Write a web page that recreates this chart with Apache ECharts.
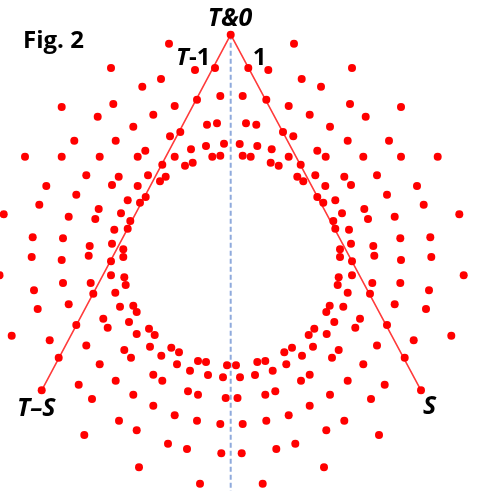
<!DOCTYPE html>
<html lang="en">

<head>
  <meta charset="UTF-8" />
  <title>Fig. 2</title>
  <script src="https://cdn.jsdelivr.net/npm/echarts@6/dist/echarts.min.js"></script>
  <style>
    body {
      margin: 0;
      background: #fff;
    }

    #chart {
      width: 478px;
      height: 491px;
    }
  </style>
</head>

<body>
  <div id="chart"></div>

  <script>
    // dot positions (x right, y down)
    const dotsTop = [
      [230.7, 34.7],
      [169, 43.7], [294, 43.7],
      [111, 68], [352, 68], [195, 70], [268.3, 70], [215, 68], [248.3, 68],
      [161, 79], [301.7, 79],
      [142.3, 86.7], [321, 86.7],
      [220.3, 96], [242.7, 96],
      [197, 99.7], [266.3, 99.7],
      [113.3, 104], [350, 104],
      [174.7, 106], [288.7, 106],
      [61.7, 107], [401, 107],
      [153.3, 114.7], [309.7, 114.7],
      [97.7, 116.7], [365.7, 116.7],
      [217, 123.3], [246, 123.3],
      [207, 124.7], [256.3, 124.7],
      [133.3, 126.7], [330, 126.7],
      [180.3, 132], [283, 132],
      [170, 136.3], [293.3, 136.3],
      [74.3, 140.7], [389, 140.7], [115.7, 140.7], [347.7, 140.7],
      [224, 143.7], [239.7, 144],
      [206, 146], [257.3, 146],
      [191, 149.3], [271.7, 149.3],
      [145.3, 150.7], [317.3, 150.7],
      [220.3, 155.7], [242.7, 155.7],
      [25, 156.7], [61.7, 156.7], [99.7, 156.7], [137.7, 156.7], [174.7, 156.7], [212.3, 156.7],
      [250.7, 156.7], [288.7, 156.7], [325.7, 156.7], [363.3, 156.7], [401, 156.7], [437.7, 156.7]
    ];

    const dotsMid = [
      [192.7, 162.7], [270.7, 162.7],
      [162.3, 164.7], [300.7, 164.7],
      [185, 165.7], [278.7, 165.7],
      [86.3, 175.3], [377, 175.3], [148, 175.3], [315.3, 175.3],
      [118.7, 176.7], [344.3, 176.7], [165.7, 176.7], [297.3, 176.7],
      [160, 181.3], [303.3, 181.3],
      [112, 185], [351, 185],
      [46.3, 186], [417, 186], [137.7, 186], [325.3, 186],
      [76.3, 194.7], [387, 194.7],
      [145.7, 197], [317.3, 197],
      [127.7, 200.3], [335.3, 200.3],
      [140, 202.7], [323.3, 202.7],
      [39.3, 204.7], [423.7, 204.7],
      [98.7, 209], [364.3, 209],
      [121, 213.3], [342, 213.3],
      [3.7, 214.3], [459.3, 214.3],
      [68.7, 216.7], [394.7, 216.7],
      [95.3, 219], [368, 219],
      [130.3, 221], [333.3, 221],
      [127.7, 228.7], [335.3, 228.7],
      [114.3, 229.7], [349, 229.7],
      [32.7, 237.3], [430.3, 237.3],
      [63, 238.3], [400.3, 238.3],
      [112, 243.7], [351, 243.7],
      [89.7, 246], [373.3, 246],
      [123.3, 249.3], [340, 249.3],
      [88.7, 255.7], [374.3, 255.7],
      [123.3, 257], [340, 257], [31.7, 257], [431.3, 257],
      [61.7, 260], [401, 260],
      [111, 261.3], [352, 261.3],
      [-0.5, 275.3], [463.7, 275.3], [111, 275.3], [352, 275.3],
      [124.3, 277.3], [338.7, 277.3],
      [63, 283], [400.3, 283], [90.7, 283], [372.3, 283],
      [125.7, 285], [337.7, 285],
      [34, 290.3], [429, 290.3],
      [115.3, 292.7], [347.7, 292.7],
      [93.3, 293.7], [370, 293.7],
      [68.7, 304.3], [394.7, 304.3],
      [133.3, 305.7], [329.7, 305.7],
      [120, 306.7], [343.3, 306.7],
      [37.7, 309], [426, 309],
      [136.7, 312], [326.3, 312],
      [103.3, 318.7], [360, 318.7],
      [129, 322], [334.3, 322],
      [76.3, 325], [387, 325],
      [107.7, 327.7], [355.3, 327.7],
      [149, 328.7], [314.3, 328.7]
    ];

    const dotsBottom = [
      [136.7, 334], [326.7, 334],
      [154.7, 335], [308.7, 335],
      [11.7, 335.7], [451.3, 335.7],
      [49.7, 340.3], [413.7, 340.3],
      [86.3, 345.5], [377, 345.5],
      [150, 346.7], [313, 346.7],
      [171.3, 347.7], [292, 347.7],
      [124.3, 350], [338.7, 350],
      [179, 352.3], [284.3, 352.3],
      [161.3, 355.7], [302, 355.7],
      [58.7, 357.7], [404.7, 357.7], [131, 357.7], [332, 357.7],
      [198, 361], [265.3, 361],
      [206, 362], [257.3, 362],
      [99.7, 364.3], [363.3, 364.3], [177, 364.3], [286.3, 364.3],
      [227, 365.3], [236, 365.3],
      [190, 370.7], [272.7, 370.7],
      [153.3, 374.7], [309.7, 374.7],
      [208, 375], [255, 375],
      [223, 377.3], [240, 377.3],
      [115.7, 380.7], [347.7, 380.7], [162.3, 380.7], [301, 380.7],
      [78.7, 384.7], [384.7, 384.7],
      [41.7, 390.3], [421, 390.3],
      [188, 391.3], [275.3, 391.3],
      [133.3, 394.7], [330, 394.7], [198, 394.7], [265.3, 394.7],
      [225.7, 398], [237.5, 398],
      [92, 399], [371, 399],
      [153.3, 405.7], [309.7, 405.7],
      [174.7, 415.3], [288.7, 415.3],
      [119, 420.7], [344.3, 420.7], [197, 420.7], [266.3, 420.7],
      [220.3, 424], [242.7, 424],
      [136.7, 430.3], [326.3, 430.3],
      [84.3, 435], [379, 435],
      [168, 443.7], [295.3, 443.7],
      [187, 449], [276.3, 449],
      [221.3, 453.3], [241.7, 453.3],
      [139, 467.3], [324, 467.3],
      [200, 483.7], [262.7, 483.7]
    ];

    // the two sides of the triangle: T-S -> T&0 -> S
    const triangle = [[41.7, 390.3], [230.7, 34.7], [421, 390.3]];
    // dashed symmetry axis
    const centerLine = [[230.7, 34.7], [230.7, 491]];

    const chart = echarts.init(document.getElementById('chart'));

    const labelFont = '"Open Sans", "Liberation Sans", sans-serif';

    // small helper for the black labels (y is the top of the text box)
    function label(text, x, y, size, italic, align) {
      return {
        type: 'text',
        x: x,
        y: y,
        z: 10,
        style: {
          text: text,
          font: (italic ? 'italic ' : '') + 'bold ' + size + 'px ' + labelFont,
          fill: '#000',
          textAlign: align || 'left',
          textVerticalAlign: 'top'
        }
      };
    }

    const option = {
      animation: false,
      grid: { left: 0, right: 0, top: 0, bottom: 0 },
      xAxis: { type: 'value', min: 0, max: 478, show: false },
      yAxis: { type: 'value', min: 0, max: 491, inverse: true, show: false },
      series: [
        {
          type: 'line',
          data: centerLine,
          showSymbol: false,
          lineStyle: { color: '#8faadc', width: 2, type: [5, 3] },
          z: 1
        },
        {
          type: 'line',
          data: triangle,
          showSymbol: false,
          lineStyle: { color: '#ff3b3b', width: 1.6 },
          z: 2
        },
        {
          type: 'scatter',
          data: dotsTop.concat(dotsMid, dotsBottom),
          symbolSize: 8,
          clip: false,
          itemStyle: { color: '#ff0000', opacity: 1 },
          z: 3
        }
      ],
      graphic: [
        label('Fig. 2', 23, 29.5, 24, false),
        label('T&0', 230, 6.4, 25, true, 'center'),
        label('T', 176, 45.9, 24, true),
        label('-1', 210.5, 45.9, 24, false, 'right'),
        label('1', 266.5, 45.9, 24, false, 'right'),
        label('T\u2013S', 17, 396.2, 25, true),
        label('S', 423, 393.9, 25, true)
      ]
    };

    chart.setOption(option);
  </script>
</body>

</html>
